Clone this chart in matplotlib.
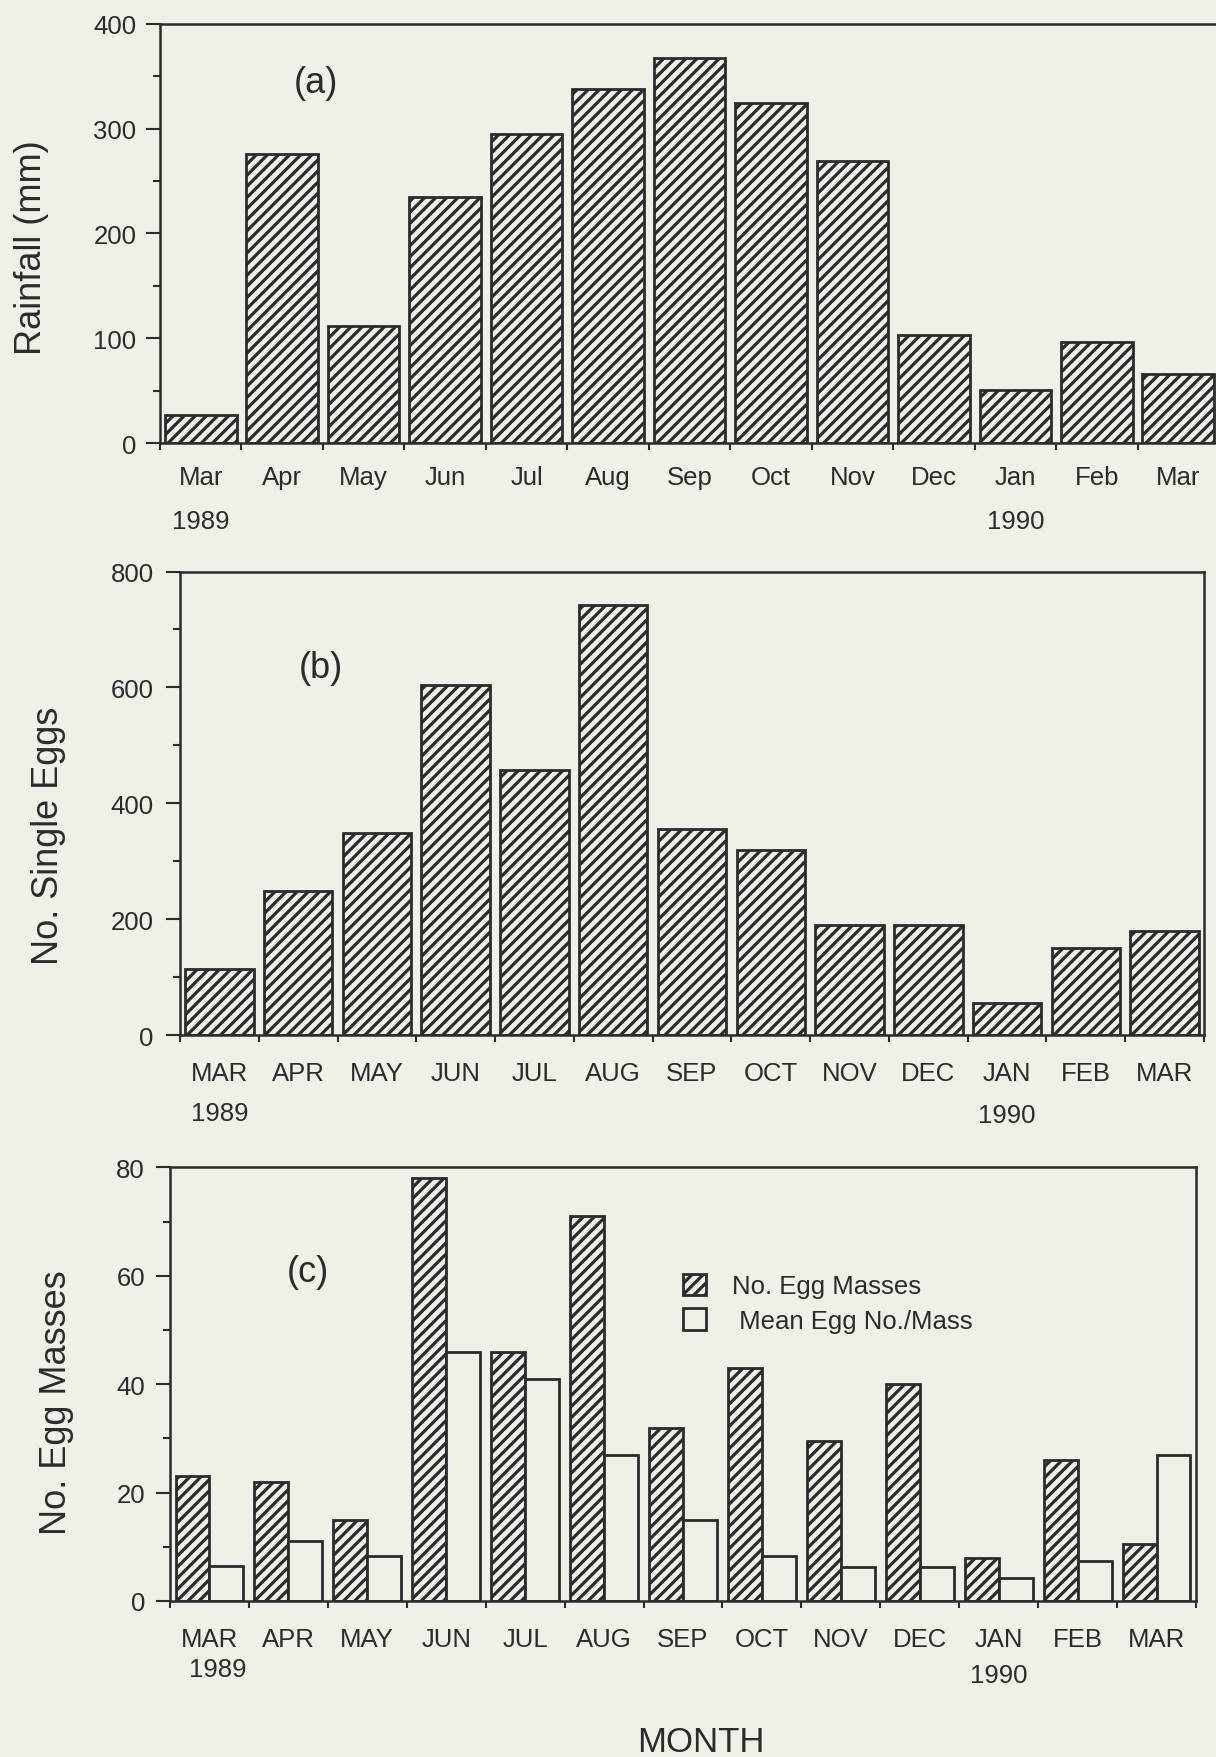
import matplotlib
matplotlib.use('Agg')
import matplotlib.pyplot as plt
import numpy as np
from matplotlib.ticker import MultipleLocator

# data
months_a = ['Mar', 'Apr', 'May', 'Jun', 'Jul', 'Aug', 'Sep',
            'Oct', 'Nov', 'Dec', 'Jan', 'Feb', 'Mar']
months_bc = ['MAR', 'APR', 'MAY', 'JUN', 'JUL', 'AUG', 'SEP',
             'OCT', 'NOV', 'DEC', 'JAN', 'FEB', 'MAR']
rainfall = [27, 276, 112, 235, 295, 338, 367, 324, 269, 103, 51, 96, 66]
single_eggs = [115, 249, 349, 604, 457, 742, 356, 320, 190, 190, 56, 151, 180]
egg_masses = [23, 22, 15, 78, 46, 71, 32, 43, 29.5, 40, 8, 26, 10.5]
mean_egg_no = [6.5, 11, 8.3, 46, 41, 27, 15, 8.3, 6.3, 6.3, 4.3, 7.3, 27]

ink = '#2b2b2b'
paper = '#f2efe8'

plt.rcParams['font.family'] = ['Liberation Sans', 'DejaVu Sans']
plt.rcParams['hatch.color'] = ink
plt.rcParams['hatch.linewidth'] = 2.3

fig = plt.figure(figsize=(12.16, 17.58), dpi=100, facecolor=paper)
W, H = 1216, 1758


def make_axes(left, top, right, bottom):
    return fig.add_axes([left / W, 1 - bottom / H, (right - left) / W, (bottom - top) / H])


def style(ax, months, ymax, ymajor, yminor, ypad, xpad):
    ax.set_facecolor(paper)
    ax.set_xlim(0, 13)
    ax.set_ylim(0, ymax)
    for s in ax.spines.values():
        s.set_color(ink)
        s.set_linewidth(1.8)
    ax.set_xticks(np.arange(14))
    ax.set_xticklabels([])
    ax.set_xticks(np.arange(13) + 0.5, minor=True)
    ax.set_xticklabels(months, minor=True)
    ax.tick_params(axis='x', which='major', length=5, width=1.5, color=ink, direction='out')
    ax.tick_params(axis='x', which='minor', length=0, pad=xpad, labelsize=18.5, labelcolor=ink)
    ax.yaxis.set_major_locator(MultipleLocator(ymajor))
    ax.yaxis.set_minor_locator(MultipleLocator(yminor))
    ax.tick_params(axis='y', which='major', length=10, width=1.5, color=ink,
                   pad=ypad, labelsize=18.5, labelcolor=ink)
    ax.tick_params(axis='y', which='minor', length=5, width=1.5, color=ink)


x = np.arange(13) + 0.5

# (a) rainfall
ax1 = make_axes(160, 24.8, 1219, 444)
ax1.bar(x, rainfall, width=0.88, facecolor=paper, edgecolor=ink, linewidth=2.0, hatch='///')
style(ax1, months_a, 400, 100, 50, 7, 16)
ax1.spines['right'].set_visible(False)
ax1.text(0.147, 0.859, '(a)', transform=ax1.transAxes, fontsize=26, color=ink, ha='center', va='center')
ax1.text(0.5, -0.186, '1989', transform=ax1.get_xaxis_transform(), fontsize=18.5, color=ink, ha='center', va='center')
ax1.text(10.5, -0.186, '1990', transform=ax1.get_xaxis_transform(), fontsize=18.5, color=ink, ha='center', va='center')

# (b) single eggs
ax2 = make_axes(180, 572.5, 1204, 1036.4)
ax2.bar(x, single_eggs, width=0.87, facecolor=paper, edgecolor=ink, linewidth=2.0, hatch='///')
style(ax2, months_bc, 800, 200, 100, 9, 18.5)
ax2.text(0.138, 0.794, '(b)', transform=ax2.transAxes, fontsize=26, color=ink, ha='center', va='center')
ax2.text(0.5, -0.167, '1989', transform=ax2.get_xaxis_transform(), fontsize=18.5, color=ink, ha='center', va='center')
ax2.text(10.5, -0.172, '1990', transform=ax2.get_xaxis_transform(), fontsize=18.5, color=ink, ha='center', va='center')

# (c) egg masses
ax3 = make_axes(170, 1168.4, 1196, 1602)
b1 = ax3.bar(x - 0.215, egg_masses, width=0.43, facecolor=paper, edgecolor=ink,
             linewidth=2.0, hatch='///', label='No. Egg Masses')
b2 = ax3.bar(x + 0.215, mean_egg_no, width=0.43, facecolor=paper, edgecolor=ink,
             linewidth=2.0, label=' Mean Egg No./Mass')
style(ax3, months_bc, 80, 20, 10, 8, 19)
ax3.text(0.1345, 0.761, '(c)', transform=ax3.transAxes, fontsize=26, color=ink, ha='center', va='center')
ax3.text(0.6, -0.157, '1989', transform=ax3.get_xaxis_transform(), fontsize=18.5, color=ink, ha='center', va='center')
ax3.text(10.5, -0.171, '1990', transform=ax3.get_xaxis_transform(), fontsize=18.5, color=ink, ha='center', va='center')
leg = ax3.legend(handles=[b1, b2], loc='upper left', bbox_to_anchor=(0.5, 0.755),
                 frameon=False, fontsize=18.5, handlelength=0.9, handleheight=0.9,
                 handletextpad=1.0, labelspacing=0.4, borderpad=0, borderaxespad=0)
for t in leg.get_texts():
    t.set_color(ink)

# axis titles
fig.text(32 / W, 1 - 248 / H, 'Rainfall (mm)', rotation=90, fontsize=26, color=ink, ha='center', va='center')
fig.text(49 / W, 1 - 836 / H, 'No. Single Eggs', rotation=90, fontsize=26, color=ink, ha='center', va='center')
fig.text(56 / W, 1 - 1403 / H, 'No. Egg Masses', rotation=90, fontsize=26, color=ink, ha='center', va='center')
fig.text(701 / W, 1 - 1743 / H, 'MONTH', fontsize=25, color=ink, ha='center', va='center')

fig.savefig('out.png', dpi=100, facecolor=paper)
